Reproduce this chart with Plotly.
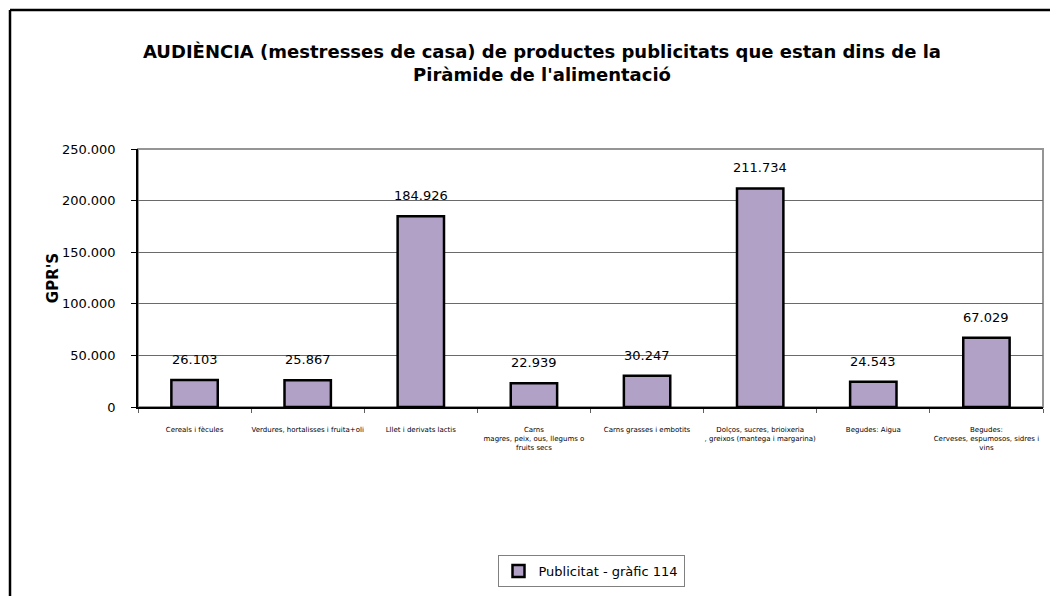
import plotly.graph_objects as go

categories = [
    "Cereals i fècules",
    "Verdures, hortalisses i fruita+oli",
    "Lllet i derivats lactis",
    "Carns<br>magres, peix, ous, llegums o<br>fruits secs",
    "Carns grasses i embotits",
    "Dolços, sucres, brioixeria<br>, greixos (mantega i margarina)",
    "Begudes: Aigua",
    "Begudes:<br>Cerveses, espumosos, sidres i<br>vins",
]
values = [26103, 25867, 184926, 22939, 30247, 211734, 24543, 67029]
series_name = "Publicitat - gràfic 114"
title_text = ("<b>AUDIÈNCIA (mestresses de casa) de productes publicitats que estan dins de la<br>"
              "Piràmide de l'alimentació</b>")
y_title = "<b>GPR'S</b>"
y_ticks = [0, 50000, 100000, 150000, 200000, 250000]

FONT = "DejaVu Sans, sans-serif"
OFF = 8  # page body margin offset
W, H = 1058 - OFF, 596 - OFF
# plot area in reference pixel coordinates
PL, PR, PT, PB = 138, 1043, 149, 407
L, R, T, B = PL - OFF, W - (PR - OFF), PT - OFF, H - (PB - OFF)
pw = W - L - R
ph = H - T - B


def px_x(p):
    return (p - PL) / pw


def px_y(p):
    return (PB - p) / ph


fig = go.Figure()
fig.add_trace(go.Bar(
    x=categories, y=values, name=series_name,
    marker=dict(color="#B2A1C7", line=dict(color="black", width=2.5)),
    width=0.41, showlegend=True,
))

for c, v in zip(categories, values):
    fig.add_annotation(x=c, y=v, text=f"{v:,}".replace(",", "."), showarrow=False,
                       yanchor="bottom", yshift=11,
                       font=dict(family=FONT, size=13, color="black"))

# outer frame (top and left edges visible)
fig.add_shape(type="line", xref="paper", yref="paper",
              x0=px_x(10), x1=px_x(10), y0=px_y(10), y1=px_y(700),
              line=dict(color="black", width=2.5))
fig.add_shape(type="line", xref="paper", yref="paper",
              x0=px_x(10), x1=px_x(1200), y0=px_y(10), y1=px_y(10),
              line=dict(color="black", width=2.5))
# plot area border
fig.add_shape(type="rect", xref="paper", yref="paper", x0=0, x1=1, y0=0, y1=1,
              line=dict(color="#959595", width=2), layer="below")

fig.update_layout(
    width=W, height=H,
    margin=dict(l=L, r=R, t=T, b=B, autoexpand=False),
    paper_bgcolor="white", plot_bgcolor="white",
    separators=",.",
    font=dict(family=FONT, color="black"),
    title=dict(text=title_text, x=(542 - OFF) / W, xanchor="center", xref="container",
               y=1 - (58 - OFF) / H, yanchor="middle", yref="container",
               font=dict(family=FONT, size=18, color="black")),
    showlegend=True,
    legend=dict(orientation="h", x=px_x(591), xanchor="center", y=px_y(555), yanchor="top",
                bordercolor="#808080", borderwidth=1, bgcolor="white",
                font=dict(family=FONT, size=13, color="black"),
                itemwidth=30),
)
fig.update_xaxes(
    type="category", showline=True, linecolor="black", linewidth=1.5,
    ticks="outside", tickson="boundaries", ticklen=4, tickcolor="#606060",
    tickfont=dict(family=FONT, size=7, color="black"), tickangle=0,
    ticklabelstandoff=15, showgrid=False, automargin=False,
)
fig.update_yaxes(
    range=[0, 250000], tickvals=y_ticks, tickformat=",d",
    showline=True, linecolor="black", linewidth=1.5,
    ticks="outside", ticklen=5, tickcolor="black",
    ticklabelstandoff=13,
    showgrid=True, gridcolor="#6a6a6a", gridwidth=1,
    tickfont=dict(family=FONT, size=13, color="black"),
    title=dict(text=y_title, font=dict(family=FONT, size=15, color="black"), standoff=0),
    zeroline=False, automargin=False,
)
fig.write_html("out.html")
